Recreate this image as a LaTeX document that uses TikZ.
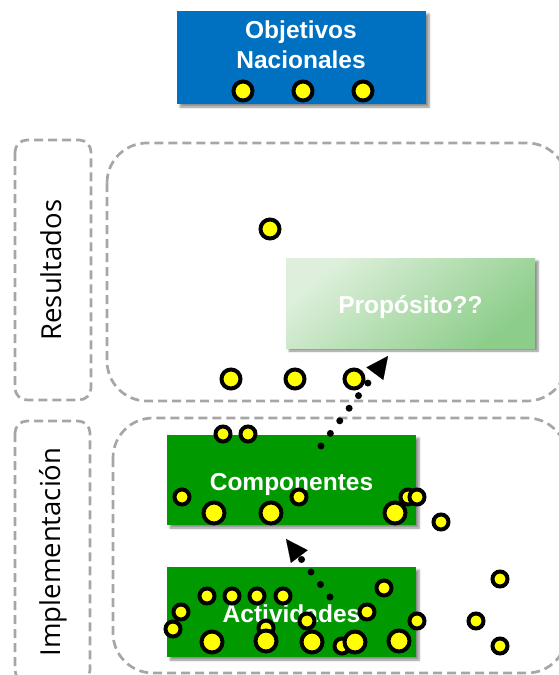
\documentclass[tikz,border=0pt]{standalone}
\usepackage{fontspec}
\setmainfont{Liberation Sans}
\newfontfamily\sidefont{Open Sans}
\usetikzlibrary{shapes.geometric, arrows.meta, shadows.blur}
\definecolor{objblue}{RGB}{0,112,192}
\definecolor{compgreen}{RGB}{0,153,0}
\definecolor{proplight}{RGB}{222,240,220}
\definecolor{propdark}{RGB}{140,205,137}
\definecolor{ballyellow}{RGB}{255,255,0}
\definecolor{zonegray}{RGB}{166,166,166}
\tikzstyle{zone} = [draw=zonegray, line width=2.7pt, dash pattern=on 9pt off 5pt, rounded corners=40pt]
\tikzstyle{zone_label} = [draw=zonegray, line width=2.7pt, dash pattern=on 9pt off 5pt, rounded corners=12pt]
\tikzstyle{side_text} = [rotate=90, inner sep=0pt, font=\sidefont\fontsize{27.5}{33}\selectfont]
\tikzstyle{box_shadow} = [blur shadow={shadow xshift=3pt, shadow yshift=-3pt, shadow blur steps=6, shadow opacity=45}]
\tikzstyle{box_text} = [text=white, inner sep=0pt, font=\bfseries\fontsize{24.5}{30}\selectfont]
\tikzstyle{process} = [rectangle, minimum width=249pt, minimum height=90pt, fill=compgreen, box_text, text height=22pt, text depth=2pt, box_shadow]
\tikzstyle{process_top} = [rectangle, minimum width=249pt, minimum height=93pt, fill=objblue, box_shadow]
\tikzstyle{process_light} = [process, shading=axis, top color=proplight, bottom color=propdark, shading angle=40]
\tikzstyle{ball} = [circle, draw=black, fill=ballyellow, line width=4pt, minimum size=19pt, inner sep=0pt]
\tikzstyle{ball_small} = [ball, minimum size=15pt]
\tikzstyle{ball_big} = [ball, minimum size=21pt]
\tikzstyle{arrow_dots} = [line width=7pt, line cap=round, dash pattern=on 0pt off 15.7pt, -{Triangle[length=22pt, width=21pt, line width=0.1pt]}]

\begin{document}
\begin{tikzpicture}[x=1pt, y=-1pt]
	\useasboundingbox (0,0) rectangle (558,675);

	% zones
	\draw [zone_label] (15,140) rectangle (91,400);
	\draw [zone] (107,143) rectangle (567,401);
	\draw [zone_label] (15,421) rectangle (90,682);
	\draw [zone] (113,418) rectangle (567,673);
	\node (res_label) [side_text] at (51,270) {Resultados};
	\node (imp_label) [side_text] at (53,552) {Implementación};

	% boxes
	\node (obj) [process_top] at (301.5,57.5) {};
	\node (obj_text) [box_text, align=center] at (301,45) {Objetivos\\Nacionales};
	\node (prop) [process_light] at (410.5,303) {Propósito??};
	\node (comp) [process] at (291.5,480) {Componentes};
	\node (act) [process] at (291.5,612) {Actividades};

	% arrows
	\coordinate (comp_from) at (321,446);
	\coordinate (prop_to) at (388,356);
	\coordinate (act_from) at (330,597);
	\coordinate (comp_to) at (286,539);
	\draw [arrow_dots] (comp_from) -- (prop_to);
	\draw [arrow_dots] (act_from) -- (comp_to);

	% balls
	\foreach \x in {243,303,363}
		\node (obj_ball\x) [ball] at (\x,91) {};
	\foreach \x/\y [count=\i] in {270/229, 231/379, 295/379, 354/379}
		\node (res_ball\i) [ball] at (\x,\y) {};
	\foreach \x/\y [count=\i] in {223/434, 248/434, 182/497, 299/497, 408/497, 417/497, 441/522}
		\node (comp_ball\i) [ball_small] at (\x,\y) {};
	\foreach \x/\y [count=\i] in {214/513, 271/513, 395/513}
		\node (comp_bigball\i) [ball_big] at (\x,\y) {};
	\foreach \x/\y [count=\i] in {181/612, 173/629, 207/596, 232/596, 257/596, 283/596, 266/628, 307/621, 342/646, 367/612, 384/588, 417/621, 500/579, 476/621, 500/646}
		\node (act_ball\i) [ball_small] at (\x,\y) {};
	\foreach \x/\y [count=\i] in {212/642, 266/641, 312/642, 355/642, 399/641}
		\node (act_bigball\i) [ball_big] at (\x,\y) {};
\end{tikzpicture}
\end{document}
